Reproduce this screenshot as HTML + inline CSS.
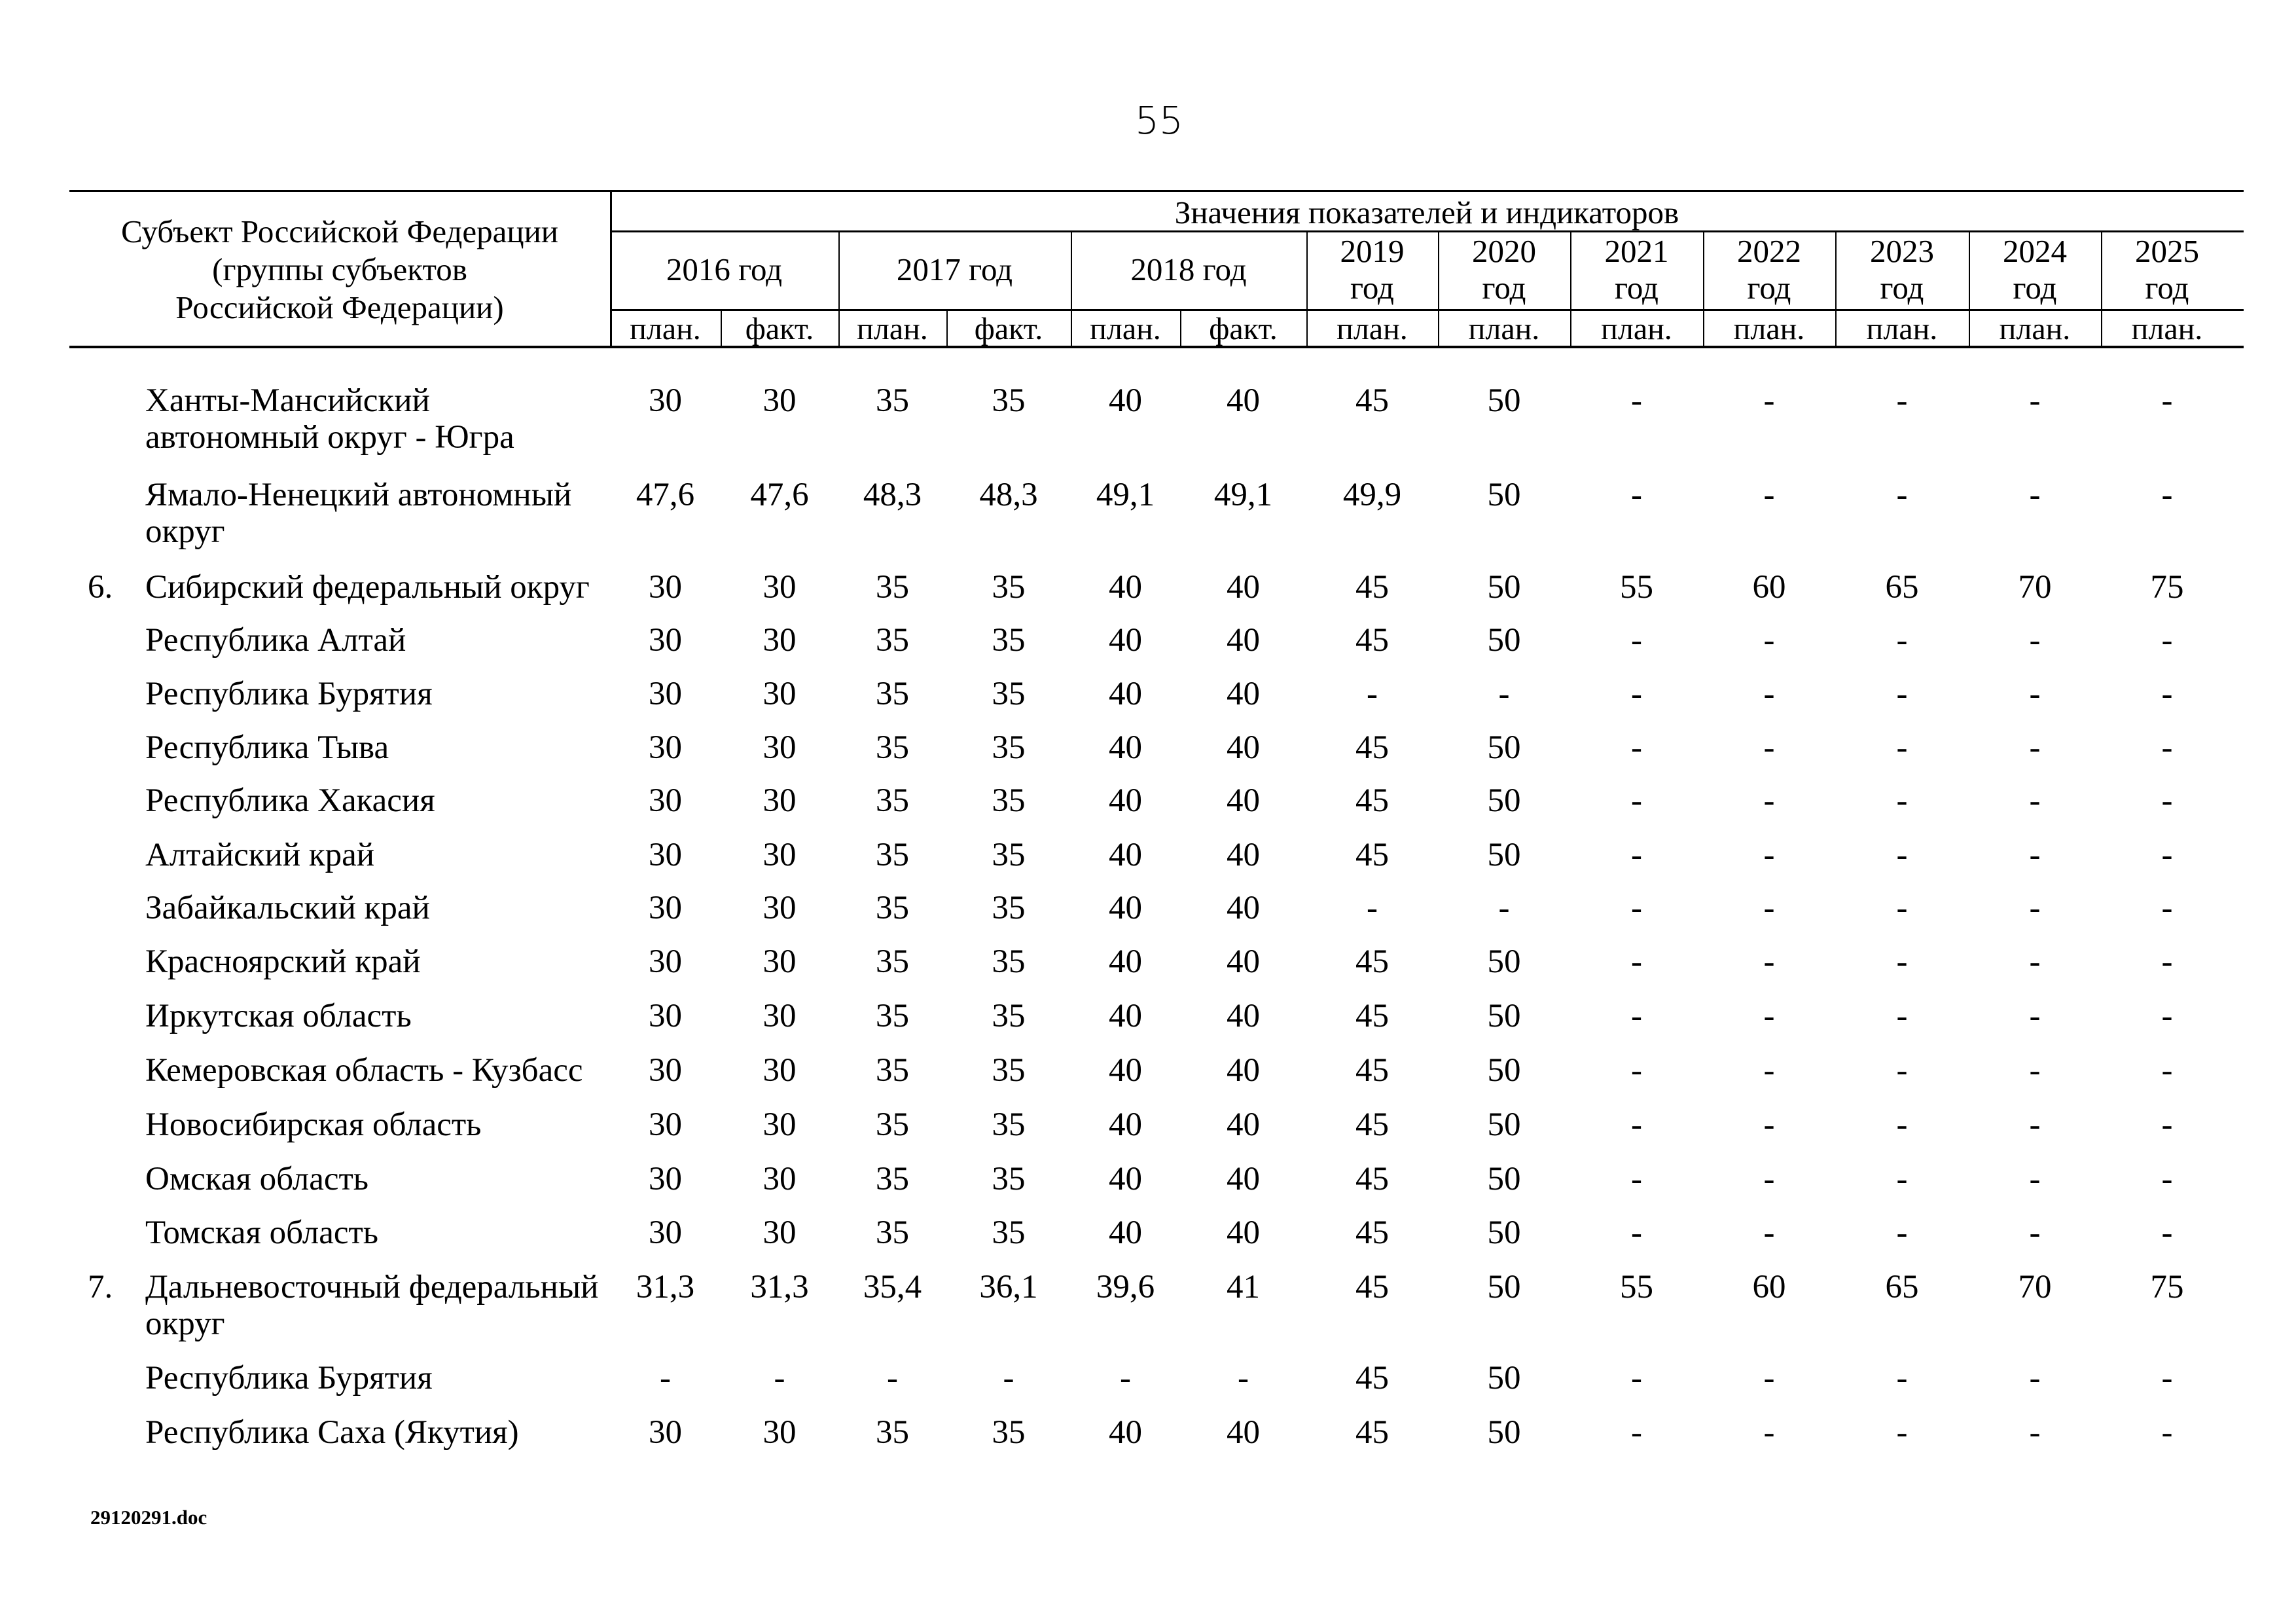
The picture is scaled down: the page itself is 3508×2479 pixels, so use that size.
<!DOCTYPE html>
<html><head><meta charset="utf-8">
<style>
body{margin:0;width:3508px;height:2479px;background:#fff;position:relative;overflow:hidden;font-family:"Liberation Serif","DejaVu Serif",serif;color:#000}
.t{position:absolute;white-space:nowrap;font-size:50px;line-height:56px}
.h{position:absolute;background:#000}
.r{position:absolute;left:0;width:3508px;height:56px}
.r span{position:absolute;top:0;text-align:center;font-size:51px;line-height:56px}
.c1{left:932px;width:169px}.c2{left:1101px;width:180px}.c3{left:1281px;width:165px}.c4{left:1446px;width:190px}
.c5{left:1636px;width:167px}.c6{left:1803px;width:193px}.c7{left:1996px;width:201px}.c8{left:2197px;width:202px}
.c9{left:2399px;width:203px}.c10{left:2602px;width:202px}.c11{left:2804px;width:204px}.c12{left:3008px;width:202px}.c13{left:3210px;width:202px}
.r .lab{left:222px;text-align:left}
.r .num{left:134px;text-align:left}
.hc{position:absolute;text-align:center;font-size:49px;line-height:56px}
</style></head><body>
<div class="t" style="left:1734px;top:155px;font-size:58px;line-height:58px;font-family:'DejaVu Sans','Liberation Sans',sans-serif;font-weight:300">55</div>

<div class="h" style="left:106px;top:290px;width:3322px;height:3px"></div>
<div class="h" style="left:932px;top:352px;width:2496px;height:3px"></div>
<div class="h" style="left:932px;top:472px;width:2496px;height:3px"></div>
<div class="h" style="left:106px;top:528px;width:3322px;height:4px"></div>
<div class="h" style="left:932px;top:290px;width:3px;height:240px"></div>
<div class="h" style="left:1101px;top:472px;width:2px;height:58px"></div>
<div class="h" style="left:1281px;top:352px;width:2px;height:178px"></div>
<div class="h" style="left:1446px;top:472px;width:2px;height:58px"></div>
<div class="h" style="left:1636px;top:352px;width:2px;height:178px"></div>
<div class="h" style="left:1803px;top:472px;width:2px;height:58px"></div>
<div class="h" style="left:1996px;top:352px;width:2px;height:178px"></div>
<div class="h" style="left:2197px;top:352px;width:2px;height:178px"></div>
<div class="h" style="left:2399px;top:352px;width:2px;height:178px"></div>
<div class="h" style="left:2602px;top:352px;width:2px;height:178px"></div>
<div class="h" style="left:2804px;top:352px;width:2px;height:178px"></div>
<div class="h" style="left:3008px;top:352px;width:2px;height:178px"></div>
<div class="h" style="left:3210px;top:352px;width:2px;height:178px"></div>

<div class="hc" style="left:106px;width:826px;top:325px;line-height:58px">Субъект Российской Федерации<br>(группы субъектов<br>Российской Федерации)</div>
<div class="hc" style="left:932px;width:2496px;top:297px">Значения показателей и индикаторов</div>
<div class="hc" style="left:932px;width:349px;top:384px">2016 год</div>
<div class="hc" style="left:1281px;width:355px;top:384px">2017 год</div>
<div class="hc" style="left:1636px;width:360px;top:384px">2018 год</div>
<div class="hc c7" style="top:356px">2019<br>год</div>
<div class="hc c8" style="top:356px">2020<br>год</div>
<div class="hc c9" style="top:356px">2021<br>год</div>
<div class="hc c10" style="top:356px">2022<br>год</div>
<div class="hc c11" style="top:356px">2023<br>год</div>
<div class="hc c12" style="top:356px">2024<br>год</div>
<div class="hc c13" style="top:356px">2025<br>год</div>
<div class="r" style="top:475px"><span class="c1" style="font-size:48px">план.</span><span class="c2" style="font-size:48px">факт.</span><span class="c3" style="font-size:48px">план.</span><span class="c4" style="font-size:48px">факт.</span><span class="c5" style="font-size:48px">план.</span><span class="c6" style="font-size:48px">факт.</span><span class="c7" style="font-size:48px">план.</span><span class="c8" style="font-size:48px">план.</span><span class="c9" style="font-size:48px">план.</span><span class="c10" style="font-size:48px">план.</span><span class="c11" style="font-size:48px">план.</span><span class="c12" style="font-size:48px">план.</span><span class="c13" style="font-size:48px">план.</span></div>

<div class="r" style="top:584px"><span class="lab">Ханты-Мансийский<br>автономный округ - Югра</span><span class="c1">30</span><span class="c2">30</span><span class="c3">35</span><span class="c4">35</span><span class="c5">40</span><span class="c6">40</span><span class="c7">45</span><span class="c8">50</span><span class="c9">-</span><span class="c10">-</span><span class="c11">-</span><span class="c12">-</span><span class="c13">-</span></div>
<div class="r" style="top:728px"><span class="lab">Ямало-Ненецкий автономный<br>округ</span><span class="c1">47,6</span><span class="c2">47,6</span><span class="c3">48,3</span><span class="c4">48,3</span><span class="c5">49,1</span><span class="c6">49,1</span><span class="c7">49,9</span><span class="c8">50</span><span class="c9">-</span><span class="c10">-</span><span class="c11">-</span><span class="c12">-</span><span class="c13">-</span></div>
<div class="r" style="top:869px"><span class="num">6.</span><span class="lab">Сибирский федеральный округ</span><span class="c1">30</span><span class="c2">30</span><span class="c3">35</span><span class="c4">35</span><span class="c5">40</span><span class="c6">40</span><span class="c7">45</span><span class="c8">50</span><span class="c9">55</span><span class="c10">60</span><span class="c11">65</span><span class="c12">70</span><span class="c13">75</span></div>
<div class="r" style="top:950px"><span class="lab">Республика Алтай</span><span class="c1">30</span><span class="c2">30</span><span class="c3">35</span><span class="c4">35</span><span class="c5">40</span><span class="c6">40</span><span class="c7">45</span><span class="c8">50</span><span class="c9">-</span><span class="c10">-</span><span class="c11">-</span><span class="c12">-</span><span class="c13">-</span></div>
<div class="r" style="top:1032px"><span class="lab">Республика Бурятия</span><span class="c1">30</span><span class="c2">30</span><span class="c3">35</span><span class="c4">35</span><span class="c5">40</span><span class="c6">40</span><span class="c7">-</span><span class="c8">-</span><span class="c9">-</span><span class="c10">-</span><span class="c11">-</span><span class="c12">-</span><span class="c13">-</span></div>
<div class="r" style="top:1114px"><span class="lab">Республика Тыва</span><span class="c1">30</span><span class="c2">30</span><span class="c3">35</span><span class="c4">35</span><span class="c5">40</span><span class="c6">40</span><span class="c7">45</span><span class="c8">50</span><span class="c9">-</span><span class="c10">-</span><span class="c11">-</span><span class="c12">-</span><span class="c13">-</span></div>
<div class="r" style="top:1195px"><span class="lab">Республика Хакасия</span><span class="c1">30</span><span class="c2">30</span><span class="c3">35</span><span class="c4">35</span><span class="c5">40</span><span class="c6">40</span><span class="c7">45</span><span class="c8">50</span><span class="c9">-</span><span class="c10">-</span><span class="c11">-</span><span class="c12">-</span><span class="c13">-</span></div>
<div class="r" style="top:1278px"><span class="lab">Алтайский край</span><span class="c1">30</span><span class="c2">30</span><span class="c3">35</span><span class="c4">35</span><span class="c5">40</span><span class="c6">40</span><span class="c7">45</span><span class="c8">50</span><span class="c9">-</span><span class="c10">-</span><span class="c11">-</span><span class="c12">-</span><span class="c13">-</span></div>
<div class="r" style="top:1359px"><span class="lab">Забайкальский край</span><span class="c1">30</span><span class="c2">30</span><span class="c3">35</span><span class="c4">35</span><span class="c5">40</span><span class="c6">40</span><span class="c7">-</span><span class="c8">-</span><span class="c9">-</span><span class="c10">-</span><span class="c11">-</span><span class="c12">-</span><span class="c13">-</span></div>
<div class="r" style="top:1441px"><span class="lab">Красноярский край</span><span class="c1">30</span><span class="c2">30</span><span class="c3">35</span><span class="c4">35</span><span class="c5">40</span><span class="c6">40</span><span class="c7">45</span><span class="c8">50</span><span class="c9">-</span><span class="c10">-</span><span class="c11">-</span><span class="c12">-</span><span class="c13">-</span></div>
<div class="r" style="top:1524px"><span class="lab">Иркутская область</span><span class="c1">30</span><span class="c2">30</span><span class="c3">35</span><span class="c4">35</span><span class="c5">40</span><span class="c6">40</span><span class="c7">45</span><span class="c8">50</span><span class="c9">-</span><span class="c10">-</span><span class="c11">-</span><span class="c12">-</span><span class="c13">-</span></div>
<div class="r" style="top:1607px"><span class="lab">Кемеровская область - Кузбасс</span><span class="c1">30</span><span class="c2">30</span><span class="c3">35</span><span class="c4">35</span><span class="c5">40</span><span class="c6">40</span><span class="c7">45</span><span class="c8">50</span><span class="c9">-</span><span class="c10">-</span><span class="c11">-</span><span class="c12">-</span><span class="c13">-</span></div>
<div class="r" style="top:1690px"><span class="lab">Новосибирская область</span><span class="c1">30</span><span class="c2">30</span><span class="c3">35</span><span class="c4">35</span><span class="c5">40</span><span class="c6">40</span><span class="c7">45</span><span class="c8">50</span><span class="c9">-</span><span class="c10">-</span><span class="c11">-</span><span class="c12">-</span><span class="c13">-</span></div>
<div class="r" style="top:1773px"><span class="lab">Омская область</span><span class="c1">30</span><span class="c2">30</span><span class="c3">35</span><span class="c4">35</span><span class="c5">40</span><span class="c6">40</span><span class="c7">45</span><span class="c8">50</span><span class="c9">-</span><span class="c10">-</span><span class="c11">-</span><span class="c12">-</span><span class="c13">-</span></div>
<div class="r" style="top:1855px"><span class="lab">Томская область</span><span class="c1">30</span><span class="c2">30</span><span class="c3">35</span><span class="c4">35</span><span class="c5">40</span><span class="c6">40</span><span class="c7">45</span><span class="c8">50</span><span class="c9">-</span><span class="c10">-</span><span class="c11">-</span><span class="c12">-</span><span class="c13">-</span></div>
<div class="r" style="top:1938px"><span class="num">7.</span><span class="lab">Дальневосточный федеральный<br>округ</span><span class="c1">31,3</span><span class="c2">31,3</span><span class="c3">35,4</span><span class="c4">36,1</span><span class="c5">39,6</span><span class="c6">41</span><span class="c7">45</span><span class="c8">50</span><span class="c9">55</span><span class="c10">60</span><span class="c11">65</span><span class="c12">70</span><span class="c13">75</span></div>
<div class="r" style="top:2077px"><span class="lab">Республика Бурятия</span><span class="c1">-</span><span class="c2">-</span><span class="c3">-</span><span class="c4">-</span><span class="c5">-</span><span class="c6">-</span><span class="c7">45</span><span class="c8">50</span><span class="c9">-</span><span class="c10">-</span><span class="c11">-</span><span class="c12">-</span><span class="c13">-</span></div>
<div class="r" style="top:2160px"><span class="lab">Республика Саха (Якутия)</span><span class="c1">30</span><span class="c2">30</span><span class="c3">35</span><span class="c4">35</span><span class="c5">40</span><span class="c6">40</span><span class="c7">45</span><span class="c8">50</span><span class="c9">-</span><span class="c10">-</span><span class="c11">-</span><span class="c12">-</span><span class="c13">-</span></div>

<div class="t" style="left:138px;top:2300px;font-size:31px;line-height:36px;font-weight:bold">29120291.doc</div>
</body></html>
